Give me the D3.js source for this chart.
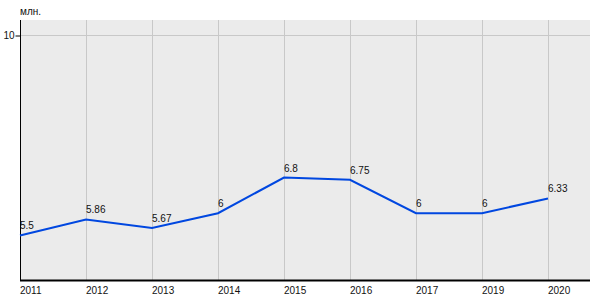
<!DOCTYPE html>
<html>
<head>
<meta charset="utf-8">
<script src="https://cdn.jsdelivr.net/npm/d3@7"></script>
<style>
  body { margin: 0; background: #fff; }
  text { font-family: "Liberation Sans", Arial, sans-serif; font-size: 10px; fill: #111; }
</style>
</head>
<body>
<div id="chart"></div>
<script>
const YEARS = ["2011", "2012", "2013", "2014", "2015", "2016", "2017", "2019", "2020"]
const VALUES = [5.5, 5.86, 5.67, 6, 6.8, 6.75, 6, 6, 6.33]
const LABELS = ["5.5", "5.86", "5.67", "6", "6.8", "6.75", "6", "6", "6.33"]
const Y_TICKS = [10]

const width = 600, height = 300
const plotLeft = 20, plotRight = 590, plotTop = 20, plotBottom = 280

const svg = d3.select("#chart").append("svg")
  .attr("width", width)
  .attr("height", height)

// plot background
svg.append("rect")
  .attr("x", plotLeft).attr("y", plotTop)
  .attr("width", plotRight - plotLeft).attr("height", plotBottom - plotTop)
  .attr("fill", "#ebebeb")

const x = d3.scalePoint()
  .domain(YEARS)
  .range([plotLeft, 548])

const y = d3.scaleLinear()
  .domain([4.5, 10])
  .range([plotBottom, 35])

// vertical grid
svg.append("g")
  .selectAll("line")
  .data(YEARS.slice(1))
  .enter().append("line")
    .attr("x1", d => x(d) + 0.5).attr("x2", d => x(d) + 0.5)
    .attr("y1", plotTop).attr("y2", plotBottom)
    .attr("stroke", "#c8c8c8")

// horizontal grid
svg.append("g")
  .selectAll("line")
  .data(Y_TICKS)
  .enter().append("line")
    .attr("x1", plotLeft).attr("x2", plotRight)
    .attr("y1", d => y(d) + 0.5).attr("y2", d => y(d) + 0.5)
    .attr("stroke", "#c8c8c8")

// y axis
const yAxis = svg.append("g")
  .attr("transform", "translate(" + (plotLeft + 0.5) + ",0.5)")
  .call(d3.axisLeft(y).tickValues(Y_TICKS).tickFormat(d3.format("d")).tickSize(5).tickPadding(1))
yAxis.select(".domain").remove()
yAxis.selectAll("line").attr("stroke", "#000")
yAxis.selectAll("text").style("font-family", "Liberation Sans, Arial, sans-serif").style("font-size", "10px").attr("fill", "#111")
svg.append("line")
  .attr("x1", plotLeft + 0.5).attr("x2", plotLeft + 0.5)
  .attr("y1", plotTop).attr("y2", plotBottom)
  .attr("stroke", "#000")

// x axis
svg.append("line")
  .attr("x1", plotLeft).attr("x2", plotRight)
  .attr("y1", plotBottom + 0.5).attr("y2", plotBottom + 0.5)
  .attr("stroke", "#000").attr("stroke-width", 2)

svg.append("g")
  .selectAll("text")
  .data(YEARS)
  .enter().append("text")
    .attr("x", d => x(d))
    .attr("y", 294)
    .text(d => d)

svg.append("text")
  .attr("x", 20)
  .attr("y", 15)
  .text("млн.")

// line
const line = d3.line()
  .x((d, i) => x(YEARS[i]))
  .y(d => y(d))

svg.append("path")
  .datum(VALUES)
  .attr("fill", "none")
  .attr("stroke", "#0047e0")
  .attr("stroke-width", 2)
  .attr("d", line)

svg.append("g")
  .selectAll("text")
  .data(VALUES)
  .enter().append("text")
    .attr("x", (d, i) => x(YEARS[i]))
    .attr("y", d => y(d) - 6)
    .text((d, i) => LABELS[i])
</script>
</body>
</html>
